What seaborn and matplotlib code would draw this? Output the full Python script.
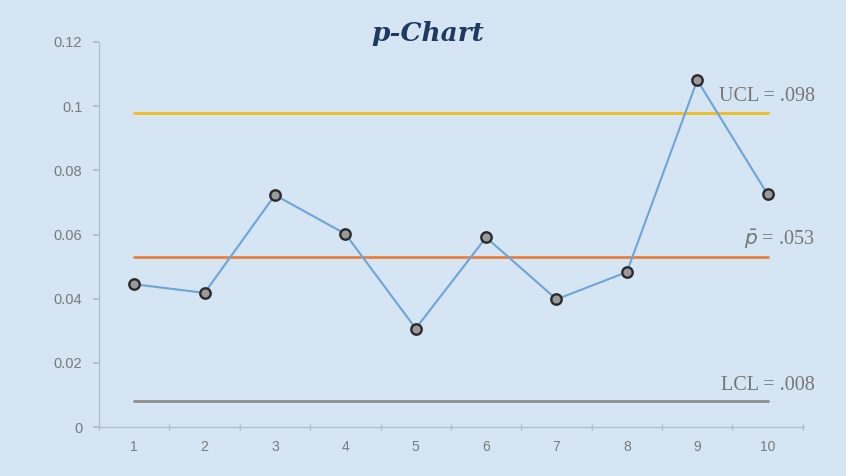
import matplotlib
matplotlib.use("Agg")
import matplotlib.pyplot as plt
import seaborn as sns
import pandas as pd

# Sample proportions of defectives per subgroup
samples = [1, 2, 3, 4, 5, 6, 7, 8, 9, 10]
proportions = [0.0445, 0.0418, 0.0723, 0.0602, 0.0307, 0.0591, 0.0398, 0.0483, 0.1081, 0.0725]

# Control limits
ucl = 0.098
p_bar = 0.053
lcl = 0.008

y_ticks = [0, 0.02, 0.04, 0.06, 0.08, 0.1, 0.12]
y_tick_labels = ["0", "0.02", "0.04", "0.06", "0.08", "0.1", "0.12"]

bg = "#d5e5f4"
sns.set_theme(style="white")
plt.rcParams["font.family"] = ["Liberation Sans", "DejaVu Sans"]

fig = plt.figure(figsize=(8.46, 4.76), dpi=100, facecolor=bg)
ax = fig.add_axes([0.117, 0.1029, 0.832, 0.8089])
ax.set_facecolor(bg)

df = pd.DataFrame({"sample": samples, "p": proportions})
first, last = samples[0], samples[-1]
limits = pd.DataFrame({
    "sample": [first, last] * 3,
    "value": [ucl, ucl, p_bar, p_bar, lcl, lcl],
    "line": ["UCL"] * 2 + ["CL"] * 2 + ["LCL"] * 2,
})
palette = {"UCL": "#f3bb1c", "CL": "#e8803f", "LCL": "#8e8e8e"}
sns.lineplot(data=limits, x="sample", y="value", hue="line", palette=palette,
             linewidth=2, legend=False, ax=ax, zorder=2)

sns.lineplot(data=df, x="sample", y="p", color="#6fa4d6", linewidth=1.5,
             marker="o", markersize=7.5, markerfacecolor="#9a9a9a",
             markeredgecolor="#2b2b2b", markeredgewidth=1.7, ax=ax, zorder=3)

ax.set_xlim(0.5, 10.5)
ax.set_ylim(0, 0.12)
ax.set_xticks(samples)
ax.set_xticklabels([str(s) for s in samples])
ax.set_xticks([s + 0.5 for s in range(0, 11)], minor=True)
ax.set_yticks(y_ticks)
ax.set_yticklabels(y_tick_labels)
ax.set_xlabel("")
ax.set_ylabel("")

for side in ["top", "right"]:
    ax.spines[side].set_visible(False)
for side in ["left", "bottom"]:
    ax.spines[side].set_color("#b4bcc6")
    ax.spines[side].set_linewidth(0.9)

ax.tick_params(axis="x", which="major", length=0, pad=9, labelsize=10, labelcolor="#7a7a7a")
ax.tick_params(axis="x", which="minor", length=4, color="#b4bcc6", direction="inout", bottom=True)
ax.tick_params(axis="y", which="major", length=4, color="#b4bcc6", direction="out",
               left=True, pad=8, labelsize=10.5, labelcolor="#7a7a7a")

label_font = dict(family=["Liberation Serif", "DejaVu Serif"], fontsize=14.5, color="#767676")
label_x = 10.67
ax.text(label_x, ucl + 0.002, f"UCL = {str(ucl)[1:]}", ha="right", va="bottom", **label_font)
ax.text(label_x, p_bar + 0.002, r"$\bar{p}$" + f" = {str(p_bar)[1:]}", ha="right", va="bottom", **label_font)
ax.text(label_x, lcl + 0.002, f"LCL = {str(lcl)[1:]}", ha="right", va="bottom", **label_font)

fig.text(0.505, 0.93, "p-Chart", ha="center", va="center", fontsize=19,
         fontweight="bold", fontstyle="italic", color="#1f3a60",
         family=["DejaVu Serif"])

fig.savefig("out.png", dpi=100, facecolor=bg)
